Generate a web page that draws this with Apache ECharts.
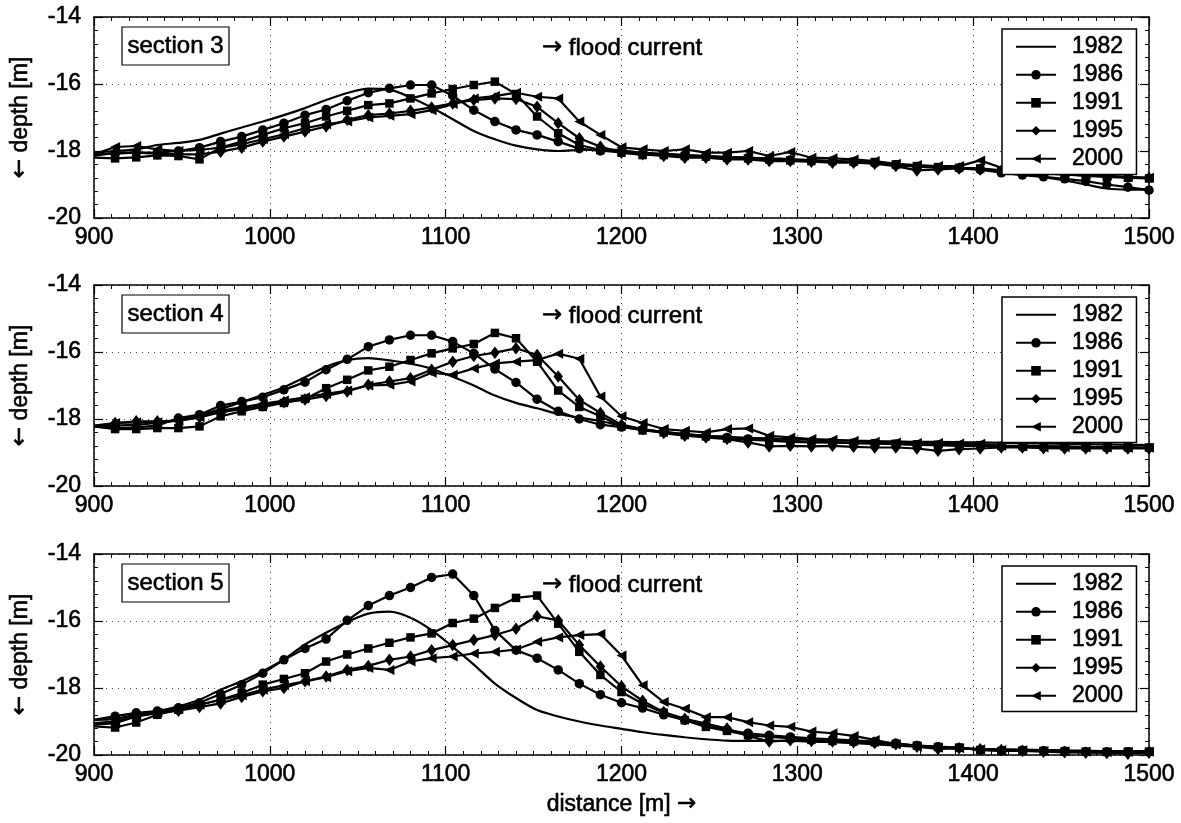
<!DOCTYPE html>
<html>
<head>
<meta charset="utf-8">
<title>depth sections</title>
<script src="https://cdn.jsdelivr.net/npm/echarts@6/dist/echarts.min.js"></script>
<style>
  html, body { margin: 0; padding: 0; background: #fff; }
  #main { width: 1181px; height: 823px; }
</style>
</head>
<body>
<div id="main"></div>
<script>
// stations along the profile [m]
var distance = [
  900, 912, 924, 936, 948, 960, 972, 984, 996, 1008,
  1020, 1032, 1044, 1056, 1068, 1080, 1092, 1104, 1116, 1128,
  1140, 1152, 1164, 1176, 1188, 1200, 1212, 1224, 1236, 1248,
  1260, 1272, 1284, 1296, 1308, 1320, 1332, 1344, 1356, 1368,
  1380, 1392, 1404, 1416, 1428, 1440, 1452, 1464, 1476, 1488,
  1500
]
var years = ['1982', '1986', '1991', '1995', '2000']
var sectionNames = ['section 3', 'section 4', 'section 5']

// section 3 depths [m]
var s3_1982 = [
  -18.05, -18.0, -17.95, -17.82, -17.76, -17.67, -17.48, -17.3, -17.12, -16.93,
  -16.72, -16.48, -16.27, -16.14, -16.17, -16.4, -16.7, -17.05, -17.4, -17.65,
  -17.84, -17.95, -18.0, -17.97, -17.95, -17.98, -18.05, -18.08, -18.12, -18.15,
  -18.18, -18.2, -18.22, -18.24, -18.27, -18.3, -18.33, -18.36, -18.4, -18.45,
  -18.48, -18.5, -18.55, -18.62, -18.7, -18.78, -18.88, -19.0, -19.12, -19.15,
  -19.15
]
var s3_1986 = [
  -18.1, -18.08, -18.05, -18.05, -18.0, -17.9, -17.72, -17.57, -17.37, -17.17,
  -16.93, -16.76, -16.5, -16.26, -16.13, -16.03, -16.03, -16.35, -16.78, -17.12,
  -17.37, -17.52, -17.72, -17.93, -18.0, -18.02, -18.08, -18.1, -18.12, -18.15,
  -18.18, -18.2, -18.24, -18.27, -18.28, -18.3, -18.33, -18.36, -18.42, -18.47,
  -18.5, -18.52, -18.56, -18.65, -18.72, -18.77, -18.83, -18.9, -19.0, -19.08,
  -19.17
]
var s3_1991 = [
  -18.2, -18.22, -18.19, -18.13, -18.15, -18.25, -17.9, -17.72, -17.52, -17.32,
  -17.17, -16.97, -16.8, -16.63, -16.58, -16.43, -16.28, -16.15, -16.03, -15.93,
  -16.3, -16.97, -17.47, -17.82, -17.97, -18.05, -18.12, -18.12, -18.15, -18.17,
  -18.2, -18.22, -18.25, -18.28, -18.3, -18.3, -18.32, -18.33, -18.4, -18.45,
  -18.48, -18.5, -18.52, -18.58, -18.62, -18.67, -18.7, -18.74, -18.77, -18.8,
  -18.82
]
var s3_1995 = [
  -18.15, -18.05, -18.05, -18.08, -18.1, -18.1, -18.02, -17.9, -17.72, -17.57,
  -17.42, -17.27, -17.07, -16.93, -16.88, -16.8, -16.7, -16.58, -16.48, -16.43,
  -16.45, -16.68, -17.17, -17.62, -17.87, -18.05, -18.1, -18.15, -18.2, -18.2,
  -18.25, -18.25, -18.3, -18.3, -18.32, -18.35, -18.35, -18.38, -18.45, -18.58,
  -18.55, -18.52, -18.55, -18.6, -18.63, -18.67, -18.7, -18.73, -18.76, -18.78,
  -18.8
]
var s3_2000 = [
  -18.1, -17.88, -17.85, -17.95, -18.0, -17.97, -17.9, -17.8, -17.65, -17.5,
  -17.32, -17.2, -17.12, -17.0, -16.95, -16.9, -16.78, -16.6, -16.43, -16.36,
  -16.26, -16.38, -16.43, -17.12, -17.52, -17.89, -17.95, -18.0, -17.95, -18.05,
  -18.05, -18.0, -18.15, -18.03, -18.2, -18.22, -18.25, -18.3, -18.38, -18.42,
  -18.45, -18.45, -18.28, -18.5, -18.55, -18.6, -18.65, -18.7, -18.74, -18.77,
  -18.8
]

// section 4 depths [m]
var s4_1982 = [
  -18.22, -18.2, -18.17, -18.12, -18.02, -17.9, -17.7, -17.5, -17.28, -17.05,
  -16.75, -16.44, -16.24, -16.18, -16.25, -16.35, -16.5, -16.74, -17.0, -17.3,
  -17.52, -17.68, -17.85, -17.96, -18.06, -18.2, -18.3, -18.38, -18.45, -18.5,
  -18.53, -18.56, -18.58, -18.6, -18.62, -18.63, -18.65, -18.66, -18.67, -18.68,
  -18.68, -18.69, -18.7, -18.71, -18.72, -18.73, -18.74, -18.75, -18.76, -18.77,
  -18.78
]
var s4_1986 = [
  -18.22, -18.28, -18.25, -18.2, -17.97, -17.87, -17.6, -17.48, -17.35, -17.13,
  -16.9, -16.53, -16.22, -15.84, -15.64, -15.5, -15.5, -15.69, -16.04, -16.51,
  -16.91, -17.41, -17.77, -18.0, -18.17, -18.24, -18.32, -18.38, -18.45, -18.5,
  -18.55, -18.6, -18.62, -18.65, -18.68, -18.7, -18.72, -18.73, -18.75, -18.77,
  -18.78, -18.8, -18.8, -18.82, -18.83, -18.83, -18.84, -18.85, -18.85, -18.86,
  -18.86
]
var s4_1991 = [
  -18.22, -18.3, -18.3, -18.27, -18.27, -18.22, -17.92, -17.77, -17.64, -17.52,
  -17.4, -17.08, -16.83, -16.55, -16.44, -16.24, -16.04, -15.89, -15.76, -15.43,
  -15.59, -16.29, -17.15, -17.64, -17.92, -18.22, -18.34, -18.4, -18.48, -18.52,
  -18.58, -18.62, -18.65, -18.68, -18.7, -18.7, -18.72, -18.73, -18.74, -18.76,
  -18.77, -18.78, -18.78, -18.8, -18.8, -18.81, -18.82, -18.83, -18.84, -18.84,
  -18.85
]
var s4_1995 = [
  -18.2, -18.12, -18.07, -18.07, -18.05, -17.95, -17.8, -17.7, -17.6, -17.5,
  -17.42, -17.31, -17.18, -16.98, -16.88, -16.78, -16.53, -16.29, -16.12, -16.02,
  -15.89, -16.09, -16.73, -17.43, -17.82, -18.17, -18.3, -18.42, -18.5, -18.55,
  -18.6, -18.7, -18.82, -18.8, -18.82, -18.8, -18.83, -18.85, -18.85, -18.88,
  -18.95, -18.9, -18.88, -18.85, -18.85, -18.87, -18.88, -18.88, -18.88, -18.88,
  -18.88
]
var s4_2000 = [
  -18.22, -18.12, -18.1, -18.1, -18.05, -17.95, -17.75, -17.65, -17.55, -17.45,
  -17.35, -17.25, -17.15, -17.0, -16.98, -16.88, -16.62, -16.68, -16.49, -16.34,
  -16.29, -16.24, -16.05, -16.2, -17.33, -17.92, -18.12, -18.3, -18.35, -18.4,
  -18.3, -18.28, -18.5, -18.55, -18.6, -18.62, -18.65, -18.68, -18.7, -18.72,
  -18.72, -18.73, -18.74, -18.8, -18.82, -18.85, -18.84, -18.85, -18.85, -18.86,
  -18.86
]

// section 5 depths [m]
var s5_1982 = [
  -18.95, -18.92, -18.8, -18.7, -18.55, -18.35, -18.05, -17.8, -17.5, -17.15,
  -16.7, -16.35, -16.03, -15.78, -15.72, -15.9, -16.27, -16.77, -17.3, -17.87,
  -18.3, -18.66, -18.85, -19.0, -19.12, -19.22, -19.32, -19.4, -19.47, -19.53,
  -19.57, -19.58, -19.58, -19.58, -19.6, -19.62, -19.65, -19.68, -19.72, -19.75,
  -19.78, -19.8, -19.82, -19.83, -19.84, -19.85, -19.86, -19.87, -19.88, -19.88,
  -19.89
]
var s5_1986 = [
  -18.95, -18.84, -18.74, -18.69, -18.59, -18.44, -18.18, -17.9, -17.56, -17.16,
  -16.82, -16.54, -15.98, -15.54, -15.24, -15.0, -14.7, -14.6, -15.24, -16.28,
  -16.87, -17.11, -17.46, -17.87, -18.2, -18.44, -18.6, -18.8, -18.96, -19.11,
  -19.26, -19.35, -19.41, -19.46, -19.5, -19.53, -19.56, -19.6, -19.65, -19.72,
  -19.75, -19.78, -19.85, -19.87, -19.86, -19.87, -19.88, -19.9, -19.9, -19.9,
  -19.9
]
var s5_1991 = [
  -19.15, -19.18, -19.03, -18.8, -18.65, -18.5, -18.35, -18.15, -17.9, -17.73,
  -17.56, -17.21, -17.0, -16.82, -16.65, -16.49, -16.37, -16.06, -15.93, -15.61,
  -15.31, -15.24, -16.08, -16.92, -17.61, -18.12, -18.47, -18.74, -18.96, -19.16,
  -19.28, -19.41, -19.46, -19.5, -19.55, -19.58, -19.6, -19.62, -19.67, -19.72,
  -19.76, -19.78, -19.85, -19.88, -19.87, -19.88, -19.9, -19.9, -19.91, -19.9,
  -19.9
]
var s5_1995 = [
  -19.05, -19.0, -18.85, -18.75, -18.68, -18.57, -18.46, -18.27, -18.1, -18.0,
  -17.8, -17.66, -17.46, -17.34, -17.16, -17.06, -16.87, -16.72, -16.57, -16.42,
  -16.23, -15.86, -15.98, -16.72, -17.36, -17.95, -18.38, -18.72, -18.92, -19.06,
  -19.21, -19.43, -19.6, -19.56, -19.58, -19.6, -19.62, -19.64, -19.68, -19.75,
  -19.82, -19.8, -19.83, -19.85, -19.88, -19.9, -19.92, -19.93, -19.94, -19.96,
  -19.93
]
var s5_2000 = [
  -19.1, -19.05, -18.85, -18.73, -18.62, -18.5, -18.35, -18.22, -18.05, -17.92,
  -17.8, -17.68, -17.5, -17.4, -17.46, -17.21, -17.11, -17.06, -16.97, -16.92,
  -16.85, -16.62, -16.49, -16.42, -16.39, -17.03, -17.92, -18.42, -18.62, -18.87,
  -18.87, -19.02, -19.12, -19.16, -19.3, -19.35, -19.43, -19.55, -19.68, -19.75,
  -19.78, -19.8, -19.83, -19.85, -19.86, -19.88, -19.89, -19.9, -19.91, -19.91,
  -19.9
]

var sections = [
  [s3_1982, s3_1986, s3_1991, s3_1995, s3_2000],
  [s4_1982, s4_1986, s4_1991, s4_1995, s4_2000],
  [s5_1982, s5_1986, s5_1991, s5_1995, s5_2000]
]

var font = '"Liberation Sans", Arial, Helvetica, sans-serif'
var arrowFont = '"DejaVu Sans", sans-serif'
var panelTop = [17, 285, 554]
var gridLeft = 94
var gridWidth = 1055
var gridHeight = 201

// one marker per year, 1982 is a plain line
var markers = ['none', 'circle', 'rect', 'diamond', 'path://M0,5L10,0L10,10Z']
var markerSize = [0, 9.5, 8.5, [9.5, 12.5], 10]

// a thin outline makes the sans text look as heavy as the print
var ink = { color: '#000', fontFamily: font, textBorderColor: '#000', textBorderWidth: 0.6 }
function textStyle (size, extra) {
  return Object.assign({ fontSize: size }, ink, extra || {})
}
var arrowRich = { a: { fontFamily: arrowFont, fontSize: 23, color: '#000' } }

var myChart = echarts.init(document.getElementById('main'))

var grids = []
var xAxes = []
var yAxes = []
var series = []
var legends = []
var graphics = []

function boxLine () {
  return { show: true, onZero: false, lineStyle: { color: '#000', width: 1.5 } }
}
function plainNumber (v) {
  return String(v)
}

sections.forEach(function (depths, p) {
  var top = panelTop[p]
  grids.push({ left: gridLeft, top: top, width: gridWidth, height: gridHeight })

  // bottom and top x axes
  xAxes.push({
    type: 'value', gridIndex: p, min: 900, max: 1500, interval: 100, position: 'bottom',
    axisLine: boxLine(),
    axisTick: { inside: true, length: 9, lineStyle: { color: '#000', width: 1.2 } },
    minorTick: { show: true, splitNumber: 10, length: 4, lineStyle: { color: '#000', width: 1 } },
    axisLabel: textStyle(23, { margin: 8, formatter: plainNumber }),
    splitLine: { show: true, lineStyle: { color: '#444', width: 1, type: [1, 5] } },
    name: p === 2 ? 'distance [m] {a|\u2192}' : '',
    nameLocation: 'middle', nameGap: 38,
    nameTextStyle: textStyle(23, { rich: arrowRich })
  })
  xAxes.push({
    type: 'value', gridIndex: p, min: 900, max: 1500, interval: 100, position: 'top',
    axisLine: boxLine(),
    axisTick: { inside: true, length: 9, lineStyle: { color: '#000', width: 1.2 } },
    minorTick: { show: true, splitNumber: 10, length: 4, lineStyle: { color: '#000', width: 1 } },
    axisLabel: { show: false },
    splitLine: { show: false }
  })

  // left and right y axes
  yAxes.push({
    type: 'value', gridIndex: p, min: -20, max: -14, interval: 2, position: 'left',
    axisLine: boxLine(),
    axisTick: { inside: true, length: 9, lineStyle: { color: '#000', width: 1.2 } },
    minorTick: { show: true, splitNumber: 5, length: 4, lineStyle: { color: '#000', width: 1 } },
    axisLabel: textStyle(23, { margin: 13 }),
    splitLine: { show: true, lineStyle: { color: '#444', width: 1, type: [1, 5] } },
    name: '{a|\u2190} depth [m]',
    nameLocation: 'middle', nameGap: 62,
    nameTextStyle: textStyle(23, { rich: arrowRich })
  })
  yAxes.push({
    type: 'value', gridIndex: p, min: -20, max: -14, interval: 2, position: 'right',
    axisLine: boxLine(),
    axisTick: { inside: true, length: 9, lineStyle: { color: '#000', width: 1.2 } },
    minorTick: { show: true, splitNumber: 5, length: 4, lineStyle: { color: '#000', width: 1 } },
    axisLabel: { show: false },
    splitLine: { show: false }
  })

  depths.forEach(function (vals, k) {
    series.push({
      name: years[k],
      type: 'line',
      xAxisIndex: 2 * p,
      yAxisIndex: 2 * p,
      symbol: markers[k],
      symbolSize: markerSize[k],
      showSymbol: k > 0,
      smooth: k === 0 ? 0.3 : false,
      lineStyle: { color: '#000', width: 2.2 },
      itemStyle: { color: '#000' },
      emphasis: { disabled: true },
      animation: false,
      data: distance.map(function (x, i) {
        return i === 0 ? { value: [x, vals[i]], symbol: 'none' } : [x, vals[i]]
      })
    })
  })

  legends.push({
    orient: 'vertical',
    left: 1002,
    top: top + 12,
    itemWidth: 40,
    itemHeight: 12,
    itemGap: 4.4,
    padding: [6, 13, 4, 13],
    borderColor: '#000',
    borderWidth: 1.5,
    backgroundColor: '#fff',
    selectedMode: false,
    textStyle: textStyle(23, { padding: [0, 0, 0, 11] }),
    data: years.map(function (y, k) {
      return k === 0 ? { name: y, itemStyle: { opacity: 0 } } : y
    })
  })

  // section label box and flow direction note
  graphics.push({
    type: 'rect', z: 100,
    shape: { x: 122, y: top + 10, width: 107, height: 38 },
    style: { fill: '#fff', stroke: '#000', lineWidth: 1.2 }
  })
  graphics.push({
    type: 'text', z: 101, x: 175.5, y: top + 29,
    style: {
      text: sectionNames[p], fontSize: 24, fontFamily: font, fill: '#000',
      stroke: '#000', lineWidth: 0.6, align: 'center', verticalAlign: 'middle'
    }
  })
  graphics.push({
    type: 'text', z: 101, x: 542, y: top + 31,
    style: {
      text: '{a|\u2192} flood current', fontSize: 24, fontFamily: font, fill: '#000',
      stroke: '#000', lineWidth: 0.6, align: 'left', verticalAlign: 'middle',
      rich: { a: { fontFamily: arrowFont, fontSize: 24, fill: '#000' } }
    }
  })
})

var option = {
  backgroundColor: '#fff',
  animation: false,
  grid: grids,
  xAxis: xAxes,
  yAxis: yAxes,
  legend: legends,
  series: series,
  graphic: graphics
}

myChart.setOption(option)
</script>
</body>
</html>
